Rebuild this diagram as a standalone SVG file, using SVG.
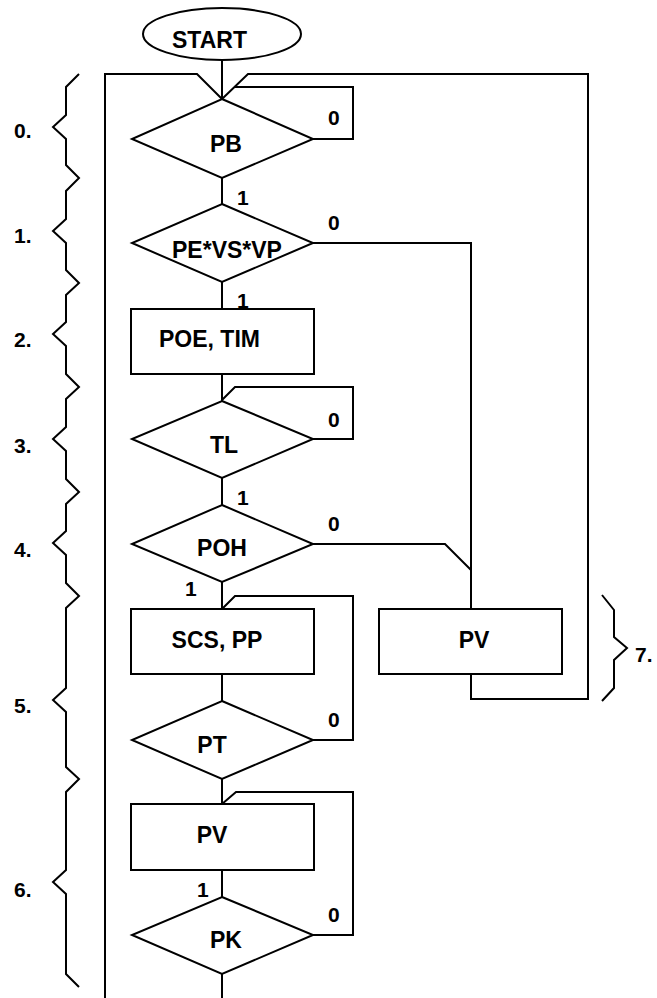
<svg xmlns="http://www.w3.org/2000/svg" width="657" height="998" viewBox="0 0 657 998">
<style>
.s{fill:none;stroke:#000;stroke-width:2;stroke-linejoin:miter}
.n{fill:#fff;stroke:#000;stroke-width:2}
.t{font-family:"Liberation Sans",Arial,sans-serif;font-weight:bold;font-size:23px;fill:#000;text-anchor:middle}
.l{font-family:"Liberation Sans",Arial,sans-serif;font-weight:bold;font-size:21px;fill:#000}
</style>
<rect width="657" height="998" fill="#fff"/>
<g id="connectors">
<path class="s" d="M222,60 L222,99"/>
<path class="s" d="M105,998 L105,74 L197,74 L222,99"/>
<path class="s" d="M471,674 L471,699 L588,699 L588,74 L248,74 L222,99"/>
<path class="s" d="M313,139 L353,139 L353,87 L235,87"/>
<path class="s" d="M222,178 L222,204"/>
<path class="s" d="M313,243 L471,243 L471,609"/>
<path class="s" d="M222,282 L222,309"/>
<path class="s" d="M222,374 L222,401"/>
<path class="s" d="M313,439 L353,439 L353,387 L235,387 L222,400"/>
<path class="s" d="M222,478 L222,505"/>
<path class="s" d="M313,544 L445,544 L471,570"/>
<path class="s" d="M222,582 L222,609"/>
<path class="s" d="M313,740 L353,740 L353,596 L235,596 L222,609"/>
<path class="s" d="M222,674 L222,701"/>
<path class="s" d="M222,779 L222,804"/>
<path class="s" d="M313,935 L353,935 L353,792 L236,792 L222,804"/>
<path class="s" d="M222,870 L222,897"/>
<path class="s" d="M222,974 L222,998"/>
</g>
<g id="braces">
<path class="s" d="M79,74 L66,87 L66,115 L53,127 L66,139 L66,165 L79,178 L66,191 L66,219 L53,231 L66,243 L66,270 L79,283 L66,295 L66,322 L53,334 L66,346 L66,374 L79,387 L66,399 L66,427 L53,439 L66,451 L66,479 L79,492 L66,504 L66,531 L53,543 L66,555 L66,583 L79,596 L66,608 L66,688 L53,700 L66,712 L66,767 L79,779 L66,792 L66,870 L53,882 L66,894 L66,974 L79,987"/>
<path class="s" d="M602,595 L614,610 L614,637 L627,648 L614,660 L614,688 L602,701"/>
<text class="l" x="14" y="138">0.</text>
<text class="l" x="14" y="243">1.</text>
<text class="l" x="14" y="347">2.</text>
<text class="l" x="14" y="453">3.</text>
<text class="l" x="14" y="557">4.</text>
<text class="l" x="14" y="713">5.</text>
<text class="l" x="14" y="897">6.</text>
<text class="l" x="635" y="662">7.</text>
</g>
<g id="labels">
<text class="l" x="328" y="125">0</text>
<text class="l" x="237" y="205">1</text>
<text class="l" x="328" y="230">0</text>
<text class="l" x="237" y="308">1</text>
<text class="l" x="328" y="427">0</text>
<text class="l" x="237" y="505">1</text>
<text class="l" x="328" y="531">0</text>
<text class="l" x="185" y="596">1</text>
<text class="l" x="328" y="727">0</text>
<text class="l" x="197" y="897">1</text>
<text class="l" x="328" y="922">0</text>
</g>
<g id="start"><ellipse class="n" cx="222" cy="34" rx="79" ry="26"/><text class="t" x="209.5" y="48">START</text></g>
<g id="pb"><polygon class="n" points="222,99 313,139 222,178 132,139"/><text class="t" x="226" y="152">PB</text></g>
<g id="pevsvp"><polygon class="n" points="222,204 313,243 222,282 132,243"/><text class="t" x="227" y="258">PE*VS*VP</text></g>
<g id="poetim"><rect class="n" x="131" y="309" width="183" height="65"/><text class="t" x="209.5" y="347">POE, TIM</text></g>
<g id="tl"><polygon class="n" points="222,401 313,439 222,478 132,439"/><text class="t" x="224" y="453">TL</text></g>
<g id="poh"><polygon class="n" points="222,505 313,544 222,582 132,544"/><text class="t" x="222" y="556">POH</text></g>
<g id="scspp"><rect class="n" x="131" y="609" width="183" height="65"/><text class="t" x="217" y="648">SCS, PP</text></g>
<g id="pt"><polygon class="n" points="222,701 313,740 222,779 132,740"/><text class="t" x="212" y="753">PT</text></g>
<g id="pv1"><rect class="n" x="131" y="804" width="183" height="66"/><text class="t" x="212" y="843">PV</text></g>
<g id="pk"><polygon class="n" points="222,897 313,935 222,974 132,935"/><text class="t" x="226" y="948">PK</text></g>
<g id="pv2"><rect class="n" x="379" y="609" width="183" height="65"/><text class="t" x="474" y="648">PV</text></g>
</svg>
